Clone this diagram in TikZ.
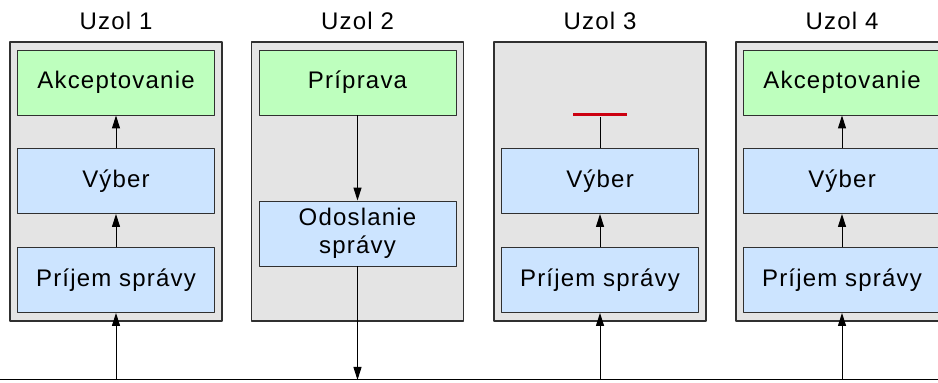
\documentclass[tikz,border=0pt]{standalone}
\usepackage{fontspec}
\setmainfont{Liberation Sans}[LetterSpace=5]
\usetikzlibrary{arrows.meta}
\definecolor{boxgray}{HTML}{E4E4E4}
\definecolor{acceptgreen}{HTML}{BEFFBE}
\definecolor{stepblue}{HTML}{CCE4FF}
\definecolor{haltred}{HTML}{CC0010}
\definecolor{edgegray}{HTML}{303030}
\begin{document}
\begin{tikzpicture}[line join=bevel,
  font=\fontsize{24bp}{28bp}\selectfont,
  uzol/.style={draw=edgegray,line width=1.6bp,fill=boxgray,minimum width=212bp,minimum height=279bp,inner sep=0pt},
  krok/.style={draw=edgegray,line width=0.9bp,fill=stepblue,minimum width=197bp,minimum height=65bp,inner sep=0pt,align=center},
  ciel/.style={krok,fill=acceptgreen},
  tok/.style={line width=1bp,-{Triangle[length=13bp,width=8bp]}},
  ]
%%
\clip (0bp,0bp) rectangle (938bp,383bp);
\fill[white] (0bp,0bp) rectangle (938bp,383bp);
%% uzly
\node (box_1) at (116bp,201.5bp) [uzol] {};
  \node (box_2) at (357.5bp,201.5bp) [uzol] {};
  \node (box_3) at (600bp,201.5bp) [uzol] {};
  \node (box_4) at (842bp,201.5bp) [uzol] {};
  \node (title_1) at (116bp,362bp) {Uzol 1};
  \node (title_2) at (357.5bp,362bp) {Uzol 2};
  \node (title_3) at (600bp,362bp) {Uzol 3};
  \node (title_4) at (842bp,362bp) {Uzol 4};
%% kroky
\node (acc_1) at (116bp,300.5bp) [ciel] {Akceptovanie};
  \node (sel_1) at (116bp,202bp) [krok] {Výber};
  \node (rx_1) at (116bp,103bp) [krok] {Príjem správy};
  \node (prep_2) at (357.5bp,300.5bp) [ciel] {Príprava};
  \node (send_2) at (357.5bp,149.5bp) [krok] {Odoslanie\\správy};
  \node (sel_3) at (600bp,202bp) [krok] {Výber};
  \node (rx_3) at (600bp,103bp) [krok] {Príjem správy};
  \node (stop_3) at (600bp,268bp) [fill=haltred,minimum width=54bp,minimum height=3bp,inner sep=0pt] {};
  \node (acc_4) at (842bp,300.5bp) [ciel] {Akceptovanie};
  \node (sel_4) at (842bp,202bp) [krok] {Výber};
  \node (rx_4) at (842bp,103bp) [krok] {Príjem správy};
%% zbernica
\coordinate (bus_w) at (0bp,3bp);
  \coordinate (bus_e) at (938bp,3bp);
  \coordinate (tap_1) at (116bp,3bp);
  \coordinate (tap_2) at (357.5bp,3bp);
  \coordinate (tap_3) at (600bp,3bp);
  \coordinate (tap_4) at (842bp,3bp);
  \draw [black,line width=1bp] (bus_w) -- (bus_e);
%%
\draw [black,tok] (tap_1) -- (rx_1);
  \draw [black,tok] (rx_1) -- (sel_1);
  \draw [black,tok] (sel_1) -- (acc_1);
  \draw [black,tok] (prep_2) -- (send_2);
  \draw [black,tok] (send_2) -- (tap_2);
  \draw [black,tok] (tap_3) -- (rx_3);
  \draw [black,tok] (rx_3) -- (sel_3);
  \draw [black,line width=1bp] (sel_3) -- (stop_3);
  \draw [black,tok] (tap_4) -- (rx_4);
  \draw [black,tok] (rx_4) -- (sel_4);
  \draw [black,tok] (sel_4) -- (acc_4);
%
\end{tikzpicture}
\end{document}
